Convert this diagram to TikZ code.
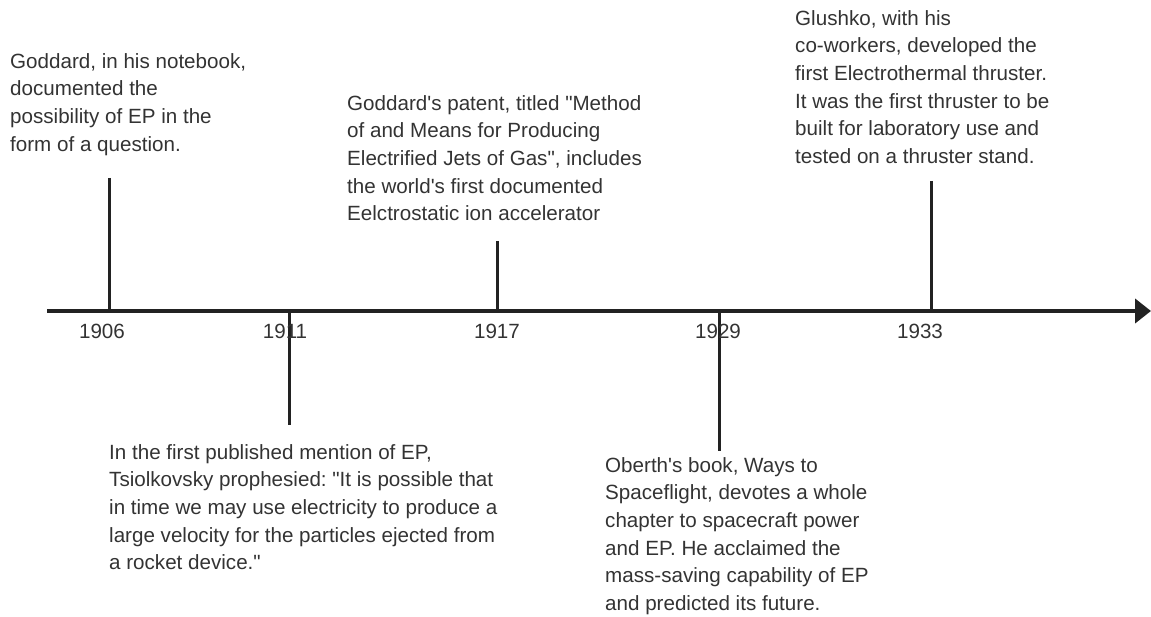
\documentclass[tikz,border=0pt]{standalone}
\usepackage{fontspec}
\setmainfont{Liberation Sans}[Ligatures=TeXOff]
\usetikzlibrary{arrows.meta}
\frenchspacing
\definecolor{ink}{HTML}{222222}
\definecolor{txt}{HTML}{333333}
\tikzset{
  desc/.style={anchor=north west, inner sep=0pt, align=left, text=txt,
    font=\fontsize{20.6}{27.7}\selectfont\frenchspacing},
  year/.style={anchor=center, inner sep=0pt, text=txt, font=\fontsize{20.6}{24}\selectfont},
  tick/.style={draw=ink, line width=3pt},
  axis/.style={draw=ink, line width=4pt, -{Triangle[length=16pt,width=24pt]}}
}
\begin{document}
\begin{tikzpicture}[x=1pt,y=-1pt]
\useasboundingbox (0,0) rectangle (1151,617);
\coordinate (a0) at (47,311);
\coordinate (a1) at (1151,311);
\draw[axis] (a0) -- (a1);
% ticks
\coordinate (t1a) at (109,178); \coordinate (t1b) at (109,311);
\coordinate (t2a) at (289,311); \coordinate (t2b) at (289,425);
\coordinate (t3a) at (497,241); \coordinate (t3b) at (497,311);
\coordinate (t4a) at (719,311); \coordinate (t4b) at (719,451);
\coordinate (t5a) at (931,181); \coordinate (t5b) at (931,311);
\draw[tick] (t1a) -- (t1b);
\draw[tick] (t2a) -- (t2b);
\draw[tick] (t3a) -- (t3b);
\draw[tick] (t4a) -- (t4b);
\draw[tick] (t5a) -- (t5b);
% years
\node[year] (y1) at (102,331) {1906};
\node[year] (y2) at (285,331) {1911};
\node[year] (y3) at (497,331) {1917};
\node[year] (y4) at (718,331) {1929};
\node[year] (y5) at (920,331) {1933};
% descriptions
\node[desc] (d1) at (10,53) {Goddard, in his notebook,\\documented the\\possibility of EP in the\\form of a question.};
\node[desc] (d2) at (347,95) {Goddard's patent, titled "Method\\of and Means for Producing\\Electrified Jets of Gas", includes\\the world's first documented\\Eelctrostatic ion accelerator};
\node[desc] (d3) at (795,10) {Glushko, with his\\co-workers, developed the\\first Electrothermal thruster.\\It was the first thruster to be\\built for laboratory use and\\tested on a thruster stand.};
\node[desc] (d4) at (109,444) {In the first published mention of EP,\\Tsiolkovsky prophesied: "It is possible that\\in time we may use electricity to produce a\\large velocity for the particles ejected from\\a rocket device."};
\node[desc] (d5) at (605,457) {Oberth's book, Ways to\\Spaceflight, devotes a whole\\chapter to spacecraft power\\and EP. He acclaimed the\\mass-saving capability of EP\\and predicted its future.};
\end{tikzpicture}
\end{document}
